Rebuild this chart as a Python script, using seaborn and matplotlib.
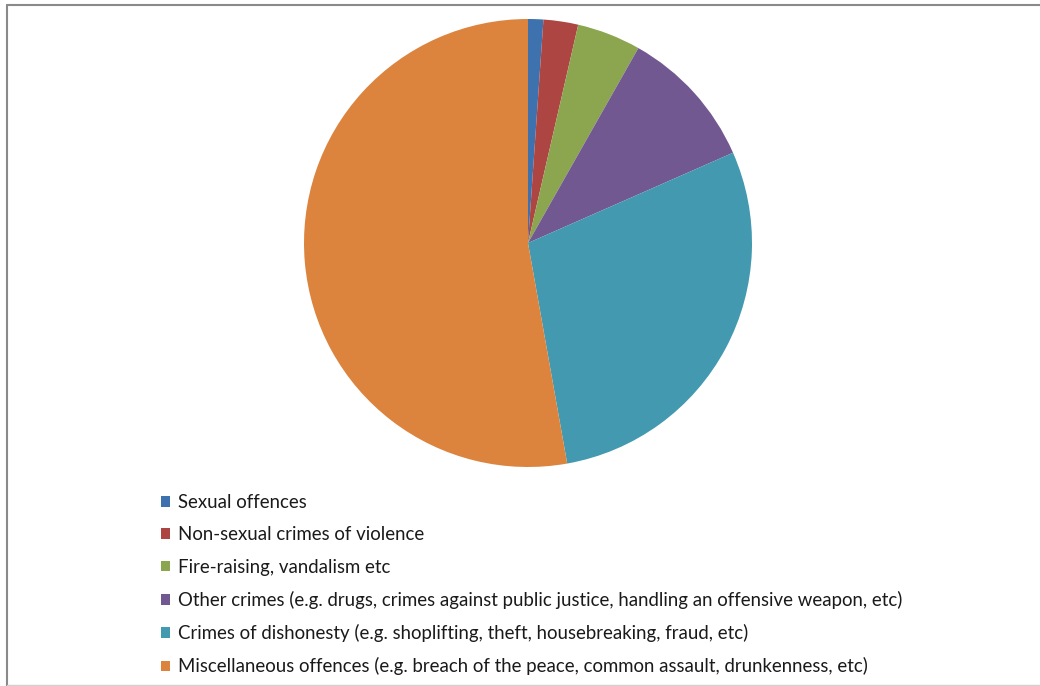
import matplotlib
matplotlib.use("Agg")
import matplotlib.pyplot as plt
import seaborn as sns
from matplotlib.patches import Patch
from matplotlib.lines import Line2D

categories = [
    "Sexual offences",
    "Non-sexual crimes of violence",
    "Fire-raising, vandalism etc",
    "Other crimes (e.g. drugs, crimes against public justice, handling an offensive weapon, etc)",
    "Crimes of dishonesty (e.g. shoplifting, theft, housebreaking, fraud, etc)",
    "Miscellaneous offences (e.g. breach of the peace, common assault, drunkenness, etc)",
]
shares = [1.1, 2.5, 4.6, 10.2, 28.8, 52.8]
colors = ["#3E72AE", "#AD4543", "#8BA64F", "#725891", "#4299B0", "#DC843E"]

sns.set_theme(style="white")
plt.rcParams['font.family'] = ['Lato', 'DejaVu Sans']

W, H = 1040, 686
fig = plt.figure(figsize=(W / 100, H / 100), dpi=100)
fig.patch.set_facecolor("white")

cx, cy, r = 528, 243, 224
ax = fig.add_axes([(cx - r) / W, (H - cy - r) / H, 2 * r / W, 2 * r / H])
ax.pie(shares, colors=sns.color_palette(colors), startangle=90, counterclock=False,
       radius=1, wedgeprops=dict(linewidth=0))
ax.set_xlim(-1, 1)
ax.set_ylim(-1, 1)
ax.set_aspect("equal")
ax.axis("off")

handles = [Patch(facecolor=c, edgecolor="none") for c in colors]
fig.legend(handles, categories, loc="upper left",
           bbox_to_anchor=(161 / W, 1 - 494 / H), frameon=False,
           fontsize=13.4, labelspacing=0.82, handlelength=0.5, handleheight=0.5,
           handletextpad=0.42, borderpad=0, borderaxespad=0, labelcolor="#1a1a1a")

# chart frame
fig.add_artist(Line2D([6.5 / W, 6.5 / W], [0, 1 - 4.5 / H], transform=fig.transFigure,
                      color="#8a8a8a", lw=1.5))
fig.add_artist(Line2D([6.5 / W, 1], [1 - 4.5 / H, 1 - 4.5 / H], transform=fig.transFigure,
                      color="#8a8a8a", lw=1.5))
fig.add_artist(Line2D([6.5 / W, 1], [1 - 685 / H, 1 - 685 / H], transform=fig.transFigure,
                      color="#d0d0d0", lw=1.0))

fig.savefig("out.png", dpi=100, facecolor="white")
